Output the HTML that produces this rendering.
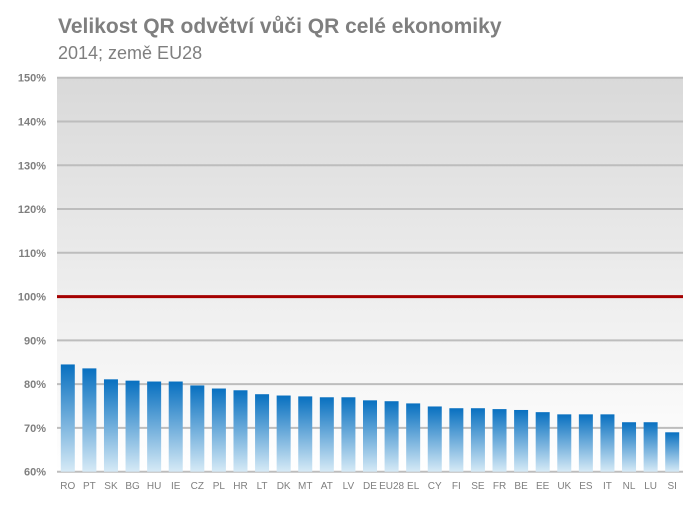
<!DOCTYPE html>
<html><head><meta charset="utf-8"><style>
body{margin:0;background:#fff;width:697px;height:512px;overflow:hidden}
svg text{font-family:"Liberation Sans",sans-serif}
</style></head><body>
<svg width="697" height="512" xmlns="http://www.w3.org/2000/svg">
<defs>
<linearGradient id="bg" x1="0" y1="0" x2="0" y2="1"><stop offset="0" stop-color="#d9d9d9"/><stop offset="1" stop-color="#ffffff"/></linearGradient>
<linearGradient id="bar" x1="0" y1="0" x2="0" y2="1"><stop offset="0" stop-color="#0870c0"/><stop offset="1" stop-color="#d6eaf6"/></linearGradient>
</defs>
<text x="58" y="33" font-size="21" font-weight="bold" fill="#7f7f7f">Velikost QR odvětví vůči QR celé ekonomiky</text>
<text x="58" y="59" font-size="18" fill="#7f7f7f">2014; země EU28</text>
<rect x="57" y="77.7" width="626" height="394" fill="url(#bg)"/>
<g id="grid"></g><g id="bars"></g><g id="xl"></g><g id="ref"></g>
</svg>
<script>
const categories=["RO","PT","SK","BG","HU","IE","CZ","PL","HR","LT","DK","MT","AT","LV","DE","EU28","EL","CY","FI","SE","FR","BE","EE","UK","ES","IT","NL","LU","SI"];
const values=[84.5,83.6,81.1,80.8,80.6,80.6,79.7,79.0,78.6,77.7,77.4,77.2,77.0,77.0,76.3,76.1,75.6,74.9,74.5,74.5,74.3,74.1,73.6,73.1,73.1,73.1,71.3,71.3,69.0];
const ticks=[60,70,80,90,100,110,120,130,140,150];
const refValue=100;
const NS="http://www.w3.org/2000/svg";
const x0=57,x1=683,yTop=77.7,yBot=471.7,vMin=60,vMax=150;
const y=v=>yBot-(v-vMin)/(vMax-vMin)*(yBot-yTop);
const band=(x1-x0)/categories.length;
const xc=i=>x0+band*(i+0.5);
function mk(t,a,p){const e=document.createElementNS(NS,t);for(const k in a)e.setAttribute(k,a[k]);p.appendChild(e);return e;}
const g=document.getElementById('grid');
ticks.forEach(t=>{
 const l=mk('line',{x1:x0,x2:x1,y1:y(t),y2:y(t),stroke:'#bdbdbd','stroke-width':2},g);
 
 
 const tx=mk('text',{x:46,y:y(t)+4,'font-size':11,'font-weight':'bold','text-anchor':'end',fill:'#7f7f7f','font-family':'Liberation Mono, monospace'},g);
 tx.textContent=t+'%';
 
 
});
const b=document.getElementById('bars'),xl=document.getElementById('xl');
categories.forEach((c,i)=>{
 const r=mk('rect',{x:xc(i)-7,y:y(values[i]),width:14,height:yBot-y(values[i]),fill:'url(#bar)'},b);
 
 
 const t=mk('text',{x:xc(i),y:489,'font-size':10,'text-anchor':'middle',fill:'#7f7f7f','font-family':'Liberation Mono, monospace'},xl);
 t.textContent=c;
 
 
});
const rl=mk('line',{x1:x0,x2:x1,y1:y(refValue),y2:y(refValue),stroke:'#a50000','stroke-width':3},document.getElementById('ref'));


</script>
</body></html>
